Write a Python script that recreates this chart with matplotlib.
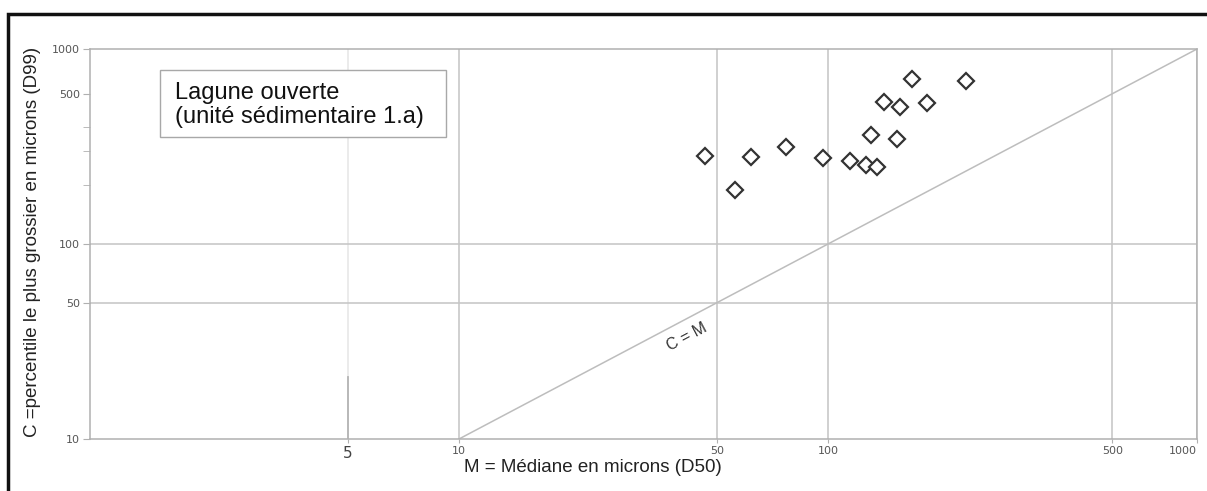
import numpy as np
import matplotlib.pyplot as plt
from matplotlib.patches import Rectangle
from matplotlib.ticker import FixedLocator, NullFormatter

# values (log-log C/M diagram)
mediane_d50 = [46.5, 56, 62, 77, 97, 115, 127, 136, 131, 142, 157, 154, 169, 185, 236]
percentile_d99 = [284, 189, 281, 313, 275, 268, 255, 248, 362, 536, 504, 345, 702, 528, 686]

# the "500" lines of the original sit at about 590 on both axes
x_ticks = [5, 10, 50, 100, 590, 1000]
x_labels = ['5', '10', '50', '100', '500', '1000']
y_ticks = [10, 50, 100, 590, 1000]
y_labels = ['10', '50', '100', '500', '1000']
y_minor = [200, 300, 400]

box_text = 'Lagune ouverte\n(unité sédimentaire 1.a)'
xlabel = 'M = Médiane en microns (D50)'
ylabel = 'C =percentile le plus grossier en microns (D99)'

plt.rcParams['font.family'] = ['Liberation Sans', 'DejaVu Sans']

W, H = 1207, 491
fig = plt.figure(figsize=(W / 100, H / 100), dpi=100)
ax = fig.add_axes([90 / W, 1 - 439 / H, (1197 - 90) / W, (439 - 49) / H])
ax.set_xscale('log')
ax.set_yscale('log')
ax.set_xlim(1, 1000)
ax.set_ylim(10, 1000)

grid_c = '#c4c4c4'
for x in x_ticks[1:]:
    ax.axvline(x, color=grid_c, lw=1.1, zorder=1)
# the line at 5 is very faint, a bit darker near the bottom
ax.axvline(5, color='#e6e6e6', lw=1.1, zorder=1)
ax.axvline(5, ymax=0.16, color='#b4b4b4', lw=1.3, zorder=1)
for y in [50, 100]:
    ax.axhline(y, color=grid_c, lw=1.1, zorder=1)

# C = M line
ax.plot([10, 1000], [10, 1000], color='#bdbdbd', lw=1.1, zorder=1)
ax.text(41.5, 33.5, 'C = M', rotation=28, rotation_mode='anchor',
        ha='center', va='center', fontsize=11.5, color='#333333')

ax.plot(mediane_d50, percentile_d99, linestyle='none', marker='D', ms=8.6,
        mfc='white', mec='#333333', mew=1.6, zorder=3)

for s in ax.spines.values():
    s.set_color('#b0b0b0')
    s.set_linewidth(1.1)

ax.xaxis.set_major_locator(FixedLocator(x_ticks))
ax.set_xticklabels(x_labels)
ax.xaxis.set_minor_formatter(NullFormatter())
ax.xaxis.set_minor_locator(FixedLocator([]))
ax.yaxis.set_major_locator(FixedLocator(y_ticks))
ax.set_yticklabels(y_labels)
ax.yaxis.set_minor_locator(FixedLocator(y_minor))
ax.yaxis.set_minor_formatter(NullFormatter())
ax.tick_params(axis='x', length=3, color='#b0b0b0', pad=2, labelsize=8,
               labelcolor='#555555')
ax.tick_params(axis='y', which='both', length=5, color='#b0b0b0', pad=2,
               labelsize=8, labelcolor='#555555')
for lab in ax.get_xticklabels() + ax.get_yticklabels():
    lab.set_family('DejaVu Sans')
xl = ax.get_xticklabels()
xl[0].set_fontsize(11)
xl[0].set_color('#444444')
xl[-1].set_horizontalalignment('right')

fig.text(593 / W, 1 - 467 / H, xlabel, ha='center', va='center',
         fontsize=13.5, color='#222222')
fig.text(33 / W, 1 - 242 / H, ylabel, ha='center', va='center',
         rotation=90, fontsize=13.5, color='#222222')

# legend-like box
fig.add_artist(Rectangle((160 / W, 1 - 137 / H), 286 / W, 67 / H,
                         transform=fig.transFigure, fc='white',
                         ec='#a8a8a8', lw=1))
fig.text(175 / W, 1 - 105 / H, box_text, ha='left', va='center',
         fontsize=17, linespacing=1.1, color='#111111')

# black outer frame of the original figure
fig.add_artist(Rectangle((8 / W, -0.2), 1.2, 1.2 - 14 / H,
                         transform=fig.transFigure, fill=False,
                         ec='#111111', lw=2.5, clip_on=False))

fig.savefig('out.png', dpi=100)
